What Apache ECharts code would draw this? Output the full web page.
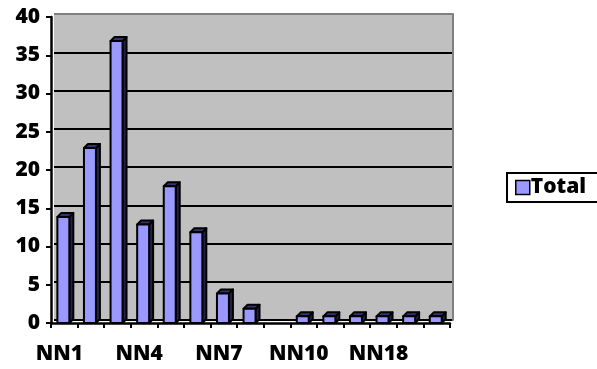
<!DOCTYPE html>
<html>
<head>
<meta charset="utf-8">
<script src="https://cdn.jsdelivr.net/npm/echarts@6/dist/echarts.min.js"></script>
<style>
  html, body { margin: 0; padding: 0; background: #fff; }
  #chart { width: 597px; height: 369px; }
</style>
</head>
<body>
<div id="chart"></div>
<script>
// Categories and counts
const categories = ['NN1', 'NN2', 'NN3', 'NN4', 'NN5', 'NN6', 'NN7', 'NN8', 'NN9',
                    'NN10', 'NN13', 'NN15', 'NN18', 'NN20', 'NN22'];
const totals = [14, 23, 37, 13, 18, 12, 4, 2, 0, 1, 1, 1, 1, 1, 1];
const yTicks = { min: 0, max: 40, interval: 5 };
const seriesName = 'Total';

const FONT = '"Open Sans", Lato, sans-serif';
const DEPTH = 4;

const chart = echarts.init(document.getElementById('chart'), null, { renderer: 'canvas' });

// 3D-style column: front face, right side face and top face
function renderColumn(params, api) {
  const v = api.value(1);
  if (!v) return null;
  const top = api.coord([api.value(0), v]);
  const base = api.coord([api.value(0), 0]);
  const bw = api.size([1, 0])[0];
  const fw = bw * 0.45;
  const x0 = top[0] - fw * 0.58;
  const x1 = x0 + fw;
  const yT = top[1] + 1;
  const yB = base[1];
  const d = DEPTH;
  const stroke = { stroke: '#000', lineWidth: 2, lineJoin: 'round' };
  return {
    type: 'group',
    children: [
      { type: 'polygon', shape: { points: [[x1, yT], [x1 + d, yT - d], [x1 + d, yB - d], [x1, yB]] },
        style: Object.assign({ fill: '#22224a' }, stroke) },
      { type: 'polygon', shape: { points: [[x0, yT], [x0 + d, yT - d], [x1 + d, yT - d], [x1, yT]] },
        style: Object.assign({ fill: '#33336e' }, stroke) },
      { type: 'rect', shape: { x: x0, y: yT, width: x1 - x0, height: yB - yT },
        style: Object.assign({ fill: api.visual('color') }, stroke) }
    ]
  };
}

const wallLineColors = ['#000', '#000', '#000', '#000', '#000', '#000', '#000', '#000', '#808080'];

chart.setOption({
  animation: false,
  backgroundColor: '#fff',
  legend: {
    data: [{ name: seriesName, icon: 'rect', itemStyle: { color: '#9999ff', borderColor: '#000', borderWidth: 1.5 } }],
    left: 507,
    top: 173,
    orient: 'vertical',
    itemWidth: 14,
    itemHeight: 14,
    padding: [4, 25, 4, 8],
    borderColor: '#000',
    borderWidth: 2,
    textStyle: { fontFamily: FONT, fontWeight: 800, fontSize: 21, color: '#000', padding: [0, 0, 0, -4] }
  },
  grid: [
    // back wall
    { left: 54, right: 144, top: 14, bottom: 49, show: true, backgroundColor: '#c0c0c0', borderWidth: 0 },
    // plotting frame
    { left: 51, right: 147, top: 17, bottom: 46 }
  ],
  xAxis: [
    { gridIndex: 0, type: 'category', data: categories, show: false },
    {
      gridIndex: 1, type: 'category', data: categories, boundaryGap: true,
      axisLine: { lineStyle: { color: '#000', width: 2.5 } },
      axisTick: { show: true, alignWithLabel: false, interval: 0, length: 5, lineStyle: { color: '#000', width: 2 } },
      axisLabel: { interval: 2, margin: 21, fontFamily: FONT, fontWeight: 800, fontSize: 21, color: '#000',
                   padding: [0, 10, 0, 0] },
      splitLine: { show: false }
    }
  ],
  yAxis: [
    {
      gridIndex: 0, type: 'value', min: yTicks.min, max: yTicks.max, interval: yTicks.interval,
      axisLine: { show: false }, axisTick: { show: false }, axisLabel: { show: false },
      splitLine: { show: true, lineStyle: { color: wallLineColors, width: 2 } }
    },
    {
      gridIndex: 0, type: 'value', position: 'right', min: yTicks.min, max: yTicks.max, interval: yTicks.interval,
      axisLine: { show: true, lineStyle: { color: '#808080', width: 2 } },
      axisTick: { show: false }, axisLabel: { show: false }, splitLine: { show: false }
    },
    {
      gridIndex: 1, type: 'value', min: yTicks.min, max: yTicks.max, interval: yTicks.interval,
      axisLine: { show: true, lineStyle: { color: '#000', width: 2.5 } },
      axisTick: { show: true, length: 5, lineStyle: { color: '#000', width: 2 } },
      axisLabel: { margin: 11, fontFamily: FONT, fontWeight: 800, fontSize: 21, color: '#000' },
      splitLine: { show: false }
    }
  ],
  series: [
    {
      name: seriesName,
      type: 'custom',
      xAxisIndex: 1,
      yAxisIndex: 2,
      color: '#9999ff',
      renderItem: renderColumn,
      encode: { x: 0, y: 1 },
      data: categories.map((c, i) => [i, totals[i]]),
      z: 3
    }
  ]
});
</script>
</body>
</html>
